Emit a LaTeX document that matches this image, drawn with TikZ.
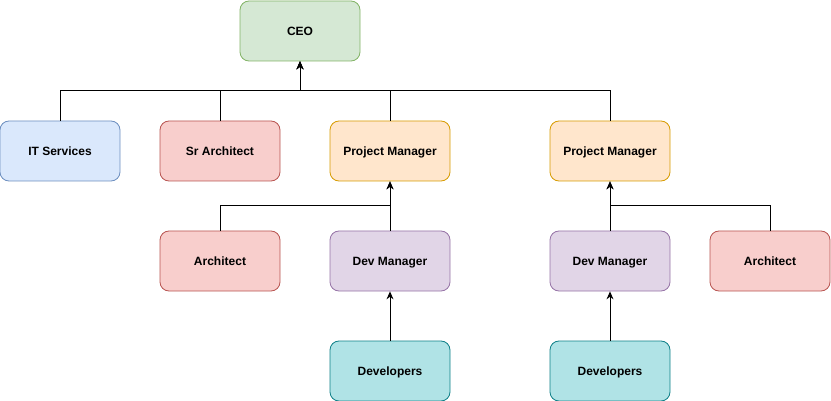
\documentclass[tikz,border=0pt]{standalone}
\usepackage{fontspec}
\setmainfont{Liberation Sans}
\usepackage{xcolor}
\usetikzlibrary{arrows.meta,positioning}
\definecolor{greenF}{HTML}{D5E8D4}\definecolor{greenD}{HTML}{82B366}
\definecolor{blueF}{HTML}{DAE8FC}\definecolor{blueD}{HTML}{6C8EBF}
\definecolor{redF}{HTML}{F8CECC}\definecolor{redD}{HTML}{B85450}
\definecolor{orangeF}{HTML}{FFE6CC}\definecolor{orangeD}{HTML}{D79B00}
\definecolor{purpleF}{HTML}{E1D5E7}\definecolor{purpleD}{HTML}{9673A6}
\definecolor{tealF}{HTML}{B0E3E6}\definecolor{tealD}{HTML}{0E8088}
\tikzset{ORG style/.style={x=1pt,y=-1pt,>={Stealth[length=8pt,width=7pt]},line width=1pt},
  box/.style={draw,rounded corners=9pt,minimum width=120pt,minimum height=60pt,inner sep=0,text height=8.6pt,text depth=0pt,font=\fontsize{12}{14}\selectfont\bfseries,line width=0.8pt},
  ceobox/.style={box,fill=greenF,draw=greenD},
  itbox/.style={box,fill=blueF,draw=blueD},
  archbox/.style={box,fill=redF,draw=redD},
  pmbox/.style={box,fill=orangeF,draw=orangeD},
  devmbox/.style={box,fill=purpleF,draw=purpleD},
  devbox/.style={box,fill=tealF,draw=tealD},
  link/.style={->,line width=1pt}}
\begin{document}
\begin{tikzpicture}[ORG style]
		\useasboundingbox (0,0) rectangle (831,401);
		
		\node[ceobox] (ceo) at (300,31) {CEO};
		
		\node[itbox] (it) at (60,151) {IT Services};
		\node[archbox] (srarch) at (220,151) {Sr Architect};
		\node[pmbox] (pmA) at (390,151) {Project Manager};
		\node[pmbox] (pmB) at (610,151) {Project Manager};
		
		\node[archbox] (archA) at (220,261) {Architect};
		\node[devmbox] (devmA) at (390,261) {Dev Manager};
		\node[devmbox] (devmB) at (610,261) {Dev Manager};
		\node[archbox] (archB) at (770,261) {Architect};
		
		\node[devbox] (devA) at (390,371) {Developers};
		\node[devbox] (devB) at (610,371) {Developers};
		
		\coordinate (ceobus) at (300,91);
		\coordinate (pmAbus) at (390,206);
		\coordinate (pmBbus) at (610,206);
		
		\draw[link] (it.north) |- (ceobus) -- (ceo.south);
		\draw[link] (srarch.north) |- (ceobus) -- (ceo.south);
		\draw[link] (pmA.north) |- (ceobus) -- (ceo.south);
		\draw[link] (pmB.north) |- (ceobus) -- (ceo.south);
		
		\draw[link] (archA.north) |- (pmAbus) -- (pmA.south);
		\draw[link] (devmA.north) -- (pmA.south);
		\draw[link] (devmB.north) -- (pmB.south);
		\draw[link] (archB.north) |- (pmBbus) -- (pmB.south);
		
		\draw[link] (devA.north) -- (devmA.south);
		\draw[link] (devB.north) -- (devmB.south);
		
	\end{tikzpicture}
\end{document}
